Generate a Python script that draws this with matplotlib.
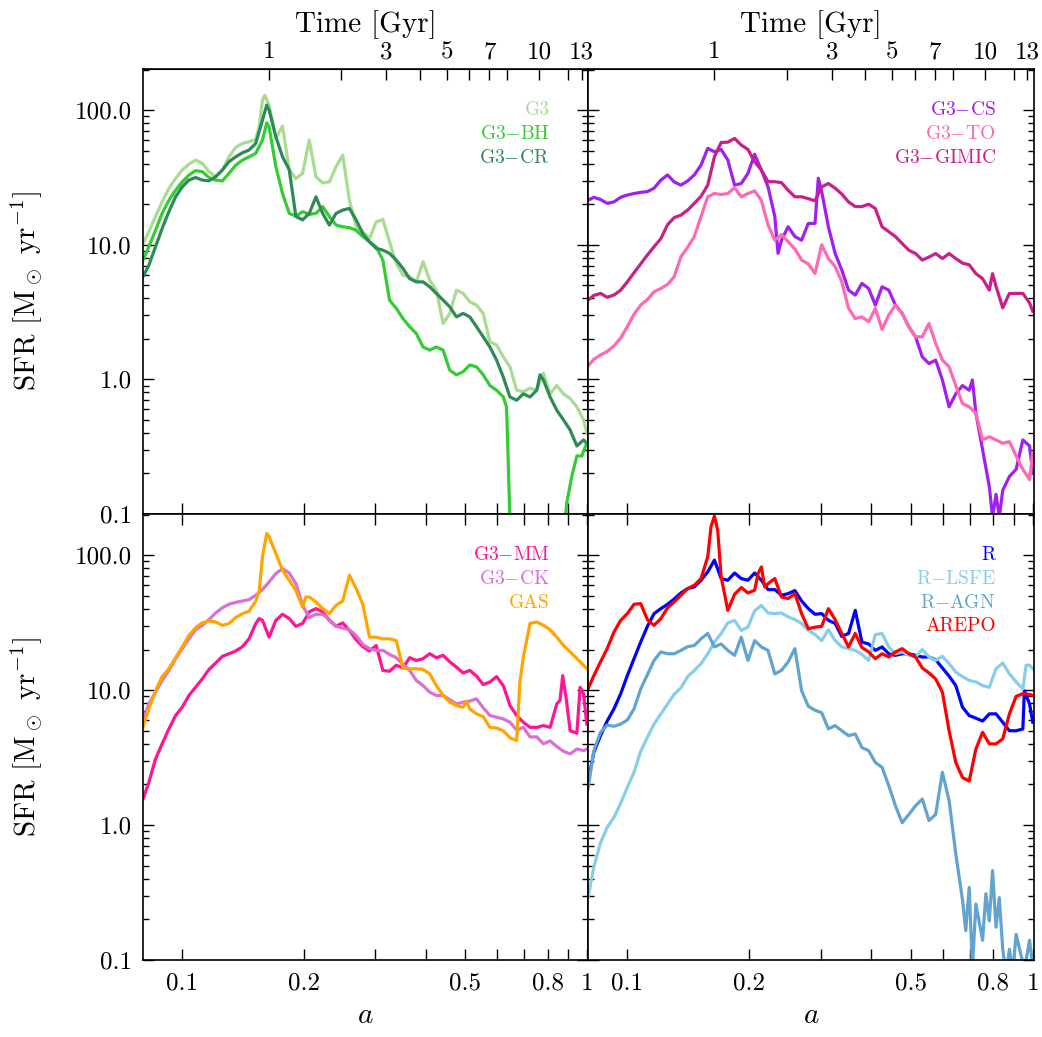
import numpy as np
import matplotlib
matplotlib.use("Agg")
import matplotlib.pyplot as plt
from matplotlib.ticker import FixedLocator, FuncFormatter, LogLocator, NullLocator

plt.rcParams['font.family'] = 'serif'
plt.rcParams['font.serif'] = ['cmr10']
plt.rcParams['mathtext.fontset'] = 'cm'
plt.rcParams['axes.unicode_minus'] = False
plt.rcParams['axes.formatter.use_mathtext'] = True

# --- data: (scale factor a, SFR [Msun/yr]) ---
g3 = [(0.0800, 10.2), (0.0827, 12.5), (0.0859, 16.2), (0.0892, 20.8), (0.0927, 26.2), (0.0963, 31.0),
      (0.1000, 35.9), (0.1039, 39.7), (0.1079, 42.5), (0.1121, 40.2), (0.1164, 34.9), (0.1210, 32.0),
      (0.1257, 35.9), (0.1305, 45.0), (0.1356, 52.8), (0.1409, 56.6), (0.1463, 58.2), (0.1520, 60.5),
      (0.1549, 75.2), (0.1579, 118.7), (0.1600, 129), (0.1640, 109), (0.1704, 61.6), (0.1770, 76.1),
      (0.1839, 35.9), (0.1910, 31.0), (0.1984, 33.9), (0.2061, 59.9), (0.2141, 32.0), (0.2224, 28.8),
      (0.2311, 29.3), (0.2400, 38.0), (0.2493, 46.3), (0.2590, 21.4), (0.2691, 13.6), (0.2795, 12.5),
      (0.2904, 11.1), (0.3016, 14.8), (0.3133, 15.4), (0.3255, 10.5), (0.3381, 7.26), (0.3513, 5.95),
      (0.3649, 5.78), (0.3790, 5.3), (0.3938, 7.47), (0.4090, 5.46), (0.4249, 4.6), (0.4414, 2.6),
      (0.4585, 3.09), (0.4763, 4.6), (0.4948, 4.35), (0.5140, 3.76), (0.5339, 3.56), (0.5547, 3.09),
      (0.5762, 1.9), (0.5985, 1.8), (0.6218, 1.47), (0.6459, 1.24), (0.6709, 0.83), (0.6970, 0.81),
      (0.7240, 0.86), (0.7521, 0.83), (0.7813, 1.11), (0.8117, 0.78), (0.8432, 0.90), (0.8759, 0.78),
      (0.9099, 0.72), (0.9452, 0.625), (0.9819, 0.50), (1.0000, 0.40)]

g3_bh = [(0.0800, 7.69), (0.0827, 9.66), (0.0859, 12.8), (0.0892, 17.1), (0.0927, 21.4), (0.0963, 25.4),
         (0.1000, 29.3), (0.1039, 32.9), (0.1079, 35.5), (0.1121, 34.9), (0.1164, 31.6), (0.1210, 30.2),
         (0.1257, 29.8), (0.1305, 33.9), (0.1356, 39.0), (0.1409, 42.5), (0.1463, 45.0), (0.1520, 47.7),
         (0.1579, 59.9), (0.1618, 80.5), (0.1640, 75.2), (0.1704, 38.0), (0.1770, 24.0), (0.1839, 17.1),
         (0.1910, 16.3), (0.1984, 17.6), (0.2061, 16.8), (0.2141, 17.1), (0.2224, 19.2), (0.2311, 16.2),
         (0.2400, 14.0), (0.2493, 13.6), (0.2590, 13.4), (0.2691, 12.8), (0.2795, 11.5), (0.2904, 10.5),
         (0.3016, 9.66), (0.3133, 7.69), (0.3255, 3.88), (0.3381, 3.37), (0.3513, 2.83), (0.3649, 2.46),
         (0.3790, 2.19), (0.3938, 1.74), (0.4090, 1.65), (0.4249, 1.74), (0.4414, 1.65), (0.4585, 1.17),
         (0.4763, 1.08), (0.4948, 1.14), (0.5140, 1.28), (0.5339, 1.24), (0.5547, 1.08), (0.5762, 0.90),
         (0.5985, 0.83), (0.6218, 0.74), (0.6334, 0.625), (0.6394, 0.25), (0.6493, 0.05), (0.7500, np.nan),
         (0.8703, 0.05), (0.8920, 0.12), (0.9180, 0.19), (0.9452, 0.27), (0.9719, 0.27), (1.0000, 0.335)]

g3_cr = [(0.0800, 5.78), (0.0827, 7.04), (0.0859, 9.66), (0.0892, 13.2), (0.0927, 17.6), (0.0963, 22.7),
         (0.1000, 26.9), (0.1039, 30.2), (0.1079, 31.6), (0.1121, 30.2), (0.1164, 29.8), (0.1210, 32.0),
         (0.1257, 35.9), (0.1305, 41.4), (0.1356, 45.0), (0.1409, 48.2), (0.1463, 50.5), (0.1520, 56.6),
         (0.1579, 84.3), (0.1618, 109), (0.1640, 100), (0.1704, 63.4), (0.1770, 45.0), (0.1839, 36.0),
         (0.1910, 16.2), (0.1984, 15.3), (0.2061, 17.1), (0.2141, 22.7), (0.2224, 17.1), (0.2311, 14.0),
         (0.2400, 17.1), (0.2493, 18.1), (0.2590, 18.6), (0.2691, 15.3), (0.2795, 12.1), (0.2904, 10.5),
         (0.3016, 9.4), (0.3133, 9.12), (0.3255, 8.62), (0.3381, 7.69), (0.3513, 6.67), (0.3649, 5.6),
         (0.3790, 5.3), (0.3938, 5.3), (0.4090, 4.87), (0.4249, 4.35), (0.4414, 3.88), (0.4585, 3.46),
         (0.4763, 2.91), (0.4948, 3.09), (0.5140, 2.91), (0.5339, 2.46), (0.5547, 2.07), (0.5762, 1.74),
         (0.5985, 1.39), (0.6218, 1.04), (0.6459, 0.74), (0.6709, 0.70), (0.6970, 0.78), (0.7240, 0.74),
         (0.7521, 0.83), (0.7663, 1.08), (0.7813, 0.99), (0.8117, 0.74), (0.8432, 0.59), (0.8759, 0.50),
         (0.9099, 0.42), (0.9452, 0.32), (0.9819, 0.355), (1.0000, 0.335)]

g3_cs = [(0.0800, 21.4), (0.0827, 22.5), (0.0859, 21.7), (0.0892, 20.3), (0.0927, 20.8), (0.0963, 22.5),
         (0.1000, 23.4), (0.1039, 24.0), (0.1079, 24.5), (0.1121, 24.8), (0.1164, 26.3), (0.1210, 30.2),
         (0.1257, 33.0), (0.1305, 29.3), (0.1356, 27.7), (0.1409, 29.8), (0.1463, 33.0), (0.1520, 39.0),
         (0.1579, 52.0), (0.1640, 49.0), (0.1704, 51.0), (0.1770, 42.5), (0.1839, 27.7), (0.1910, 28.5),
         (0.1984, 33.9), (0.2061, 47.0), (0.2141, 35.9), (0.2224, 26.9), (0.2311, 16.2), (0.2354, 8.62),
         (0.2400, 10.8), (0.2493, 13.6), (0.2590, 11.5), (0.2691, 10.8), (0.2795, 14.4), (0.2904, 14.4),
         (0.2959, 31.2), (0.3016, 24.8), (0.3133, 13.6), (0.3255, 8.62), (0.3381, 6.48), (0.3513, 4.60),
         (0.3649, 4.23), (0.3790, 5.16), (0.3938, 4.73), (0.4090, 3.56), (0.4249, 4.87), (0.4414, 4.60),
         (0.4585, 3.56), (0.4763, 3.09), (0.4948, 2.46), (0.5140, 2.07), (0.5339, 1.47), (0.5547, 1.31),
         (0.5762, 1.39), (0.5985, 0.99), (0.6218, 0.625), (0.6459, 0.78), (0.6709, 0.90), (0.6970, 0.83),
         (0.7098, 0.99), (0.7240, 0.56), (0.7521, 0.30), (0.7813, 0.16), (0.7958, 0.095), (0.8117, 0.14),
         (0.8269, 0.095), (0.8432, 0.15), (0.8759, 0.19), (0.9099, 0.215), (0.9452, 0.355), (0.9819, 0.32),
         (1.0000, 0.20)]

g3_to = [(0.0800, 1.26), (0.0827, 1.41), (0.0859, 1.52), (0.0892, 1.61), (0.0927, 1.77), (0.0963, 2.03),
         (0.1000, 2.46), (0.1039, 3.05), (0.1079, 3.56), (0.1121, 3.92), (0.1164, 4.47), (0.1210, 4.73),
         (0.1257, 5.07), (0.1305, 5.78), (0.1356, 8.14), (0.1409, 9.57), (0.1463, 11.5), (0.1520, 16.2),
         (0.1579, 22.7), (0.1640, 24.0), (0.1704, 23.6), (0.1770, 24.0), (0.1839, 26.6), (0.1910, 22.7),
         (0.1984, 24.0), (0.2061, 25.1), (0.2141, 21.4), (0.2224, 14.0), (0.2311, 10.8), (0.2400, 11.9),
         (0.2493, 10.5), (0.2590, 9.3), (0.2691, 7.69), (0.2795, 7.2), (0.2904, 6.12), (0.3016, 10.0),
         (0.3133, 7.9), (0.3255, 6.9), (0.3381, 5.3), (0.3513, 3.37), (0.3649, 2.83), (0.3790, 2.91),
         (0.3938, 2.68), (0.4090, 3.37), (0.4249, 2.35), (0.4414, 3.0), (0.4585, 3.56), (0.4763, 3.09),
         (0.4948, 2.46), (0.5140, 2.07), (0.5339, 2.07), (0.5547, 2.60), (0.5762, 1.85), (0.5985, 1.39),
         (0.6218, 1.24), (0.6459, 0.90), (0.6709, 0.66), (0.6970, 0.625), (0.7240, 0.56), (0.7521, 0.355),
         (0.7813, 0.375), (0.8117, 0.355), (0.8432, 0.335), (0.8759, 0.345), (0.9099, 0.27), (0.9452, 0.215),
         (0.9819, 0.18), (1.0000, 0.285)]

g3_gimic = [(0.0800, 3.88), (0.0827, 4.2), (0.0859, 4.35), (0.0892, 4.07), (0.0927, 4.23), (0.0963, 4.60),
            (0.1000, 5.3), (0.1039, 6.2), (0.1079, 7.2), (0.1121, 8.4), (0.1164, 9.66), (0.1210, 11.1),
            (0.1257, 14.1), (0.1305, 15.9), (0.1356, 16.6), (0.1409, 18.1), (0.1463, 20.3), (0.1520, 22.9),
            (0.1579, 27.7), (0.1640, 45.0), (0.1704, 57.5), (0.1770, 57.8), (0.1839, 61.6), (0.1910, 55.0),
            (0.1984, 51.0), (0.2061, 41.3), (0.2141, 35.9), (0.2224, 29.4), (0.2311, 29.4), (0.2400, 28.9),
            (0.2493, 25.4), (0.2590, 22.7), (0.2691, 22.7), (0.2795, 22.0), (0.2904, 21.2), (0.3016, 26.9),
            (0.3133, 28.5), (0.3255, 26.3), (0.3381, 23.8), (0.3513, 20.8), (0.3649, 19.2), (0.3790, 19.2),
            (0.3938, 20.0), (0.4090, 18.6), (0.4249, 13.6), (0.4414, 12.5), (0.4585, 11.5), (0.4763, 10.2),
            (0.4948, 9.1), (0.5140, 8.6), (0.5339, 7.7), (0.5547, 8.1), (0.5762, 8.6), (0.5985, 7.9),
            (0.6218, 8.6), (0.6459, 7.9), (0.6709, 7.3), (0.6970, 7.1), (0.7240, 6.1), (0.7521, 5.6),
            (0.7813, 4.6), (0.7958, 6.1), (0.8117, 4.9), (0.8432, 3.4), (0.8759, 4.35), (0.9099, 4.35),
            (0.9452, 4.35), (0.9819, 3.7), (1.0000, 3.2)]

g3_mm = [(0.0800, 1.56), (0.0827, 2.07), (0.0859, 3.09), (0.0892, 4.0), (0.0927, 5.16), (0.0963, 6.48),
         (0.1000, 7.47), (0.1039, 9.12), (0.1079, 10.5), (0.1121, 12.1), (0.1164, 14.2), (0.1210, 15.9),
         (0.1257, 17.8), (0.1305, 18.6), (0.1356, 19.5), (0.1409, 21.0), (0.1463, 24.0), (0.1520, 31.2),
         (0.1549, 33.9), (0.1579, 32.9), (0.1640, 24.7), (0.1704, 32.9), (0.1770, 36.5), (0.1839, 33.9),
         (0.1910, 29.7), (0.1984, 31.2), (0.2061, 38.0), (0.2141, 40.2), (0.2224, 38.0), (0.2311, 32.9),
         (0.2400, 29.7), (0.2493, 31.5), (0.2590, 27.7), (0.2691, 23.6), (0.2795, 21.0), (0.2904, 19.5),
         (0.3016, 21.4), (0.3133, 14.0), (0.3255, 13.8), (0.3381, 15.3), (0.3513, 14.6), (0.3649, 17.4),
         (0.3790, 16.6), (0.3938, 17.1), (0.4090, 18.6), (0.4249, 17.4), (0.4414, 18.1), (0.4585, 16.2),
         (0.4763, 14.8), (0.4948, 13.4), (0.5140, 14.0), (0.5339, 12.7), (0.5547, 11.0), (0.5762, 11.5),
         (0.5985, 12.6), (0.6218, 10.8), (0.6459, 7.7), (0.6709, 6.48), (0.6970, 5.78), (0.7240, 5.3),
         (0.7521, 5.3), (0.7813, 5.46), (0.8117, 5.3), (0.8432, 7.9), (0.8588, 8.4), (0.8719, 12.8),
         (0.8920, 8.14), (0.9099, 5.0), (0.9452, 4.8), (0.9627, 10.5), (0.9819, 9.4), (1.0000, 5.6)]

g3_ck = [(0.0800, 5.95), (0.0827, 7.9), (0.0859, 9.66), (0.0892, 11.8), (0.0927, 14.0), (0.0963, 17.1),
         (0.1000, 20.3), (0.1039, 24.0), (0.1079, 28.0), (0.1121, 30.2), (0.1164, 33.3), (0.1210, 37.3),
         (0.1257, 40.8), (0.1305, 43.3), (0.1356, 44.7), (0.1409, 45.8), (0.1463, 46.8), (0.1520, 50.5),
         (0.1579, 55.6), (0.1640, 63.4), (0.1704, 73.1), (0.1770, 79.6), (0.1839, 73.8), (0.1910, 61.6),
         (0.1984, 42.5), (0.2061, 34.5), (0.2141, 36.5), (0.2224, 36.5), (0.2311, 33.3), (0.2400, 29.7),
         (0.2493, 28.8), (0.2590, 28.0), (0.2691, 25.4), (0.2795, 21.8), (0.2904, 20.3), (0.3016, 19.7),
         (0.3133, 19.7), (0.3255, 18.4), (0.3381, 17.4), (0.3513, 15.5), (0.3649, 14.0), (0.3790, 11.8),
         (0.3938, 10.8), (0.4090, 9.66), (0.4249, 9.12), (0.4414, 9.12), (0.4585, 8.5), (0.4763, 7.9),
         (0.4948, 8.14), (0.5140, 8.3), (0.5339, 8.62), (0.5547, 7.4), (0.5762, 6.48), (0.5985, 6.3),
         (0.6218, 6.12), (0.6459, 5.78), (0.6709, 5.06), (0.6970, 5.3), (0.7240, 4.5), (0.7521, 4.5),
         (0.7813, 4.0), (0.8117, 4.2), (0.8432, 3.82), (0.8759, 3.52), (0.9099, 3.37), (0.9452, 3.66),
         (0.9819, 3.56), (1.0000, 3.66)]

gas = [(0.0800, 5.3), (0.0827, 7.26), (0.0859, 9.9), (0.0892, 12.6), (0.0927, 14.4), (0.0963, 17.4),
       (0.1000, 20.9), (0.1039, 25.4), (0.1079, 29.0), (0.1121, 31.5), (0.1164, 32.5), (0.1210, 32.0),
       (0.1257, 30.2), (0.1305, 31.2), (0.1356, 34.5), (0.1409, 36.9), (0.1463, 38.4), (0.1520, 45.8),
       (0.1549, 53.4), (0.1579, 97.2), (0.1618, 145), (0.1640, 137), (0.1704, 103), (0.1770, 77.4),
       (0.1839, 65.2), (0.1910, 54.7), (0.1984, 41.3), (0.2022, 49.0), (0.2061, 49.0), (0.2141, 45.0),
       (0.2224, 40.2), (0.2311, 36.9), (0.2400, 42.5), (0.2493, 45.8), (0.2590, 71.0), (0.2691, 56.6),
       (0.2795, 43.3), (0.2904, 24.7), (0.3016, 24.7), (0.3133, 24.0), (0.3255, 24.0), (0.3381, 23.3),
       (0.3513, 14.6), (0.3649, 14.4), (0.3790, 14.4), (0.3938, 14.2), (0.4090, 13.2), (0.4249, 10.8),
       (0.4414, 9.12), (0.4585, 8.14), (0.4763, 7.69), (0.4948, 7.47), (0.5041, 8.3), (0.5140, 7.26),
       (0.5339, 6.67), (0.5547, 6.36), (0.5762, 5.3), (0.5985, 5.24), (0.6218, 5.0), (0.6459, 4.43),
       (0.6709, 4.23), (0.6834, 11.5), (0.6970, 17.6), (0.7240, 31.2), (0.7521, 32.0), (0.7813, 30.2),
       (0.8117, 28.0), (0.8432, 24.7), (0.8759, 21.4), (0.9099, 19.2), (0.9452, 17.1), (0.9819, 15.3),
       (1.0000, 14.4)]

r_run = [(0.0800, 2.07), (0.0827, 3.46), (0.0859, 4.60), (0.0892, 5.9), (0.0927, 7.26), (0.0963, 9.4),
         (0.1000, 12.8), (0.1039, 17.1), (0.1079, 22.7), (0.1121, 29.7), (0.1164, 36.9), (0.1210, 40.2),
         (0.1257, 43.3), (0.1305, 47.3), (0.1356, 52.5), (0.1409, 56.6), (0.1463, 58.2), (0.1520, 65.2),
         (0.1579, 75.2), (0.1640, 92.0), (0.1704, 67.1), (0.1770, 65.2), (0.1839, 73.8), (0.1910, 67.1),
         (0.1984, 65.2), (0.2061, 73.8), (0.2141, 65.2), (0.2224, 55.6), (0.2311, 55.6), (0.2400, 50.5),
         (0.2493, 51.9), (0.2590, 54.7), (0.2691, 45.8), (0.2795, 40.2), (0.2904, 36.5), (0.3016, 36.9),
         (0.3133, 32.9), (0.3255, 31.2), (0.3381, 25.0), (0.3513, 26.3), (0.3649, 39.0), (0.3790, 22.7),
         (0.3938, 22.0), (0.4090, 19.7), (0.4249, 20.9), (0.4414, 18.6), (0.4585, 18.1), (0.4763, 18.6),
         (0.4948, 18.6), (0.5140, 18.1), (0.5339, 17.6), (0.5547, 17.6), (0.5762, 16.8), (0.5985, 14.6),
         (0.6218, 12.7), (0.6459, 10.8), (0.6709, 7.47), (0.6970, 6.48), (0.7240, 6.2), (0.7521, 5.9),
         (0.7813, 6.67), (0.8117, 6.67), (0.8432, 5.78), (0.8759, 5.0), (0.9099, 5.0), (0.9452, 5.16),
         (0.9535, 9.9), (0.9819, 7.9), (1.0000, 5.78)]

r_lsfe = [(0.0800, 0.29), (0.0827, 0.49), (0.0859, 0.74), (0.0892, 0.96), (0.0927, 1.14), (0.0963, 1.45),
          (0.1000, 1.90), (0.1039, 2.46), (0.1079, 3.52), (0.1121, 4.47), (0.1164, 5.6), (0.1210, 6.67),
          (0.1257, 7.9), (0.1305, 9.3), (0.1356, 10.4), (0.1409, 12.6), (0.1463, 14.0), (0.1520, 15.7),
          (0.1579, 18.6), (0.1640, 22.7), (0.1704, 26.3), (0.1770, 31.5), (0.1839, 32.9), (0.1910, 27.7),
          (0.1984, 29.3), (0.2061, 38.7), (0.2141, 42.5), (0.2224, 37.3), (0.2311, 36.9), (0.2400, 37.3),
          (0.2493, 34.9), (0.2590, 33.3), (0.2691, 31.2), (0.2795, 27.7), (0.2904, 25.8), (0.3016, 23.3),
          (0.3133, 28.0), (0.3255, 23.3), (0.3381, 20.9), (0.3513, 20.3), (0.3649, 19.7), (0.3790, 18.4),
          (0.3938, 16.6), (0.4090, 25.8), (0.4249, 26.3), (0.4414, 20.9), (0.4585, 18.6), (0.4763, 19.2),
          (0.4948, 18.1), (0.5140, 17.6), (0.5339, 20.0), (0.5547, 17.6), (0.5762, 16.6), (0.5985, 17.8),
          (0.6218, 15.7), (0.6459, 13.6), (0.6709, 12.6), (0.6970, 11.8), (0.7240, 11.5), (0.7521, 10.8),
          (0.7813, 10.5), (0.8117, 14.4), (0.8432, 15.9), (0.8759, 13.2), (0.9099, 11.5), (0.9452, 10.2),
          (0.9627, 15.3), (0.9819, 15.3), (1.0000, 14.4)]

r_agn = [(0.0800, 1.85), (0.0827, 3.56), (0.0859, 4.87), (0.0892, 5.5), (0.0927, 5.4), (0.0963, 5.6),
         (0.1000, 6.0), (0.1039, 7.26), (0.1079, 10.2), (0.1121, 13.0), (0.1164, 16.6), (0.1210, 19.2),
         (0.1257, 18.6), (0.1305, 18.6), (0.1356, 19.7), (0.1409, 21.0), (0.1463, 21.4), (0.1520, 24.0),
         (0.1579, 26.3), (0.1640, 20.9), (0.1704, 22.0), (0.1770, 19.7), (0.1839, 18.1), (0.1910, 24.7),
         (0.1984, 16.6), (0.2061, 23.3), (0.2141, 20.9), (0.2224, 19.7), (0.2311, 13.2), (0.2400, 14.0),
         (0.2493, 16.2), (0.2590, 20.3), (0.2691, 9.9), (0.2795, 7.6), (0.2904, 7.1), (0.3016, 6.8),
         (0.3133, 5.16), (0.3255, 5.46), (0.3381, 5.0), (0.3513, 4.6), (0.3649, 4.73), (0.3790, 3.75),
         (0.3938, 3.56), (0.4090, 2.91), (0.4249, 2.68), (0.4414, 1.96), (0.4585, 1.39), (0.4763, 1.04),
         (0.4948, 1.20), (0.5140, 1.39), (0.5339, 1.56), (0.5547, 1.08), (0.5762, 1.20), (0.5985, 2.46),
         (0.6218, 1.52), (0.6459, 0.61), (0.6709, 0.28), (0.6834, 0.165), (0.6970, 0.345), (0.7098, 0.088),
         (0.7240, 0.26), (0.7521, 0.14), (0.7663, 0.31), (0.7813, 0.195), (0.7958, 0.46), (0.8117, 0.175),
         (0.8269, 0.29), (0.8432, 0.12), (0.8588, 0.08), (0.8759, 0.12), (0.8920, 0.08), (0.9099, 0.155),
         (0.9452, 0.095), (0.9627, 0.10), (0.9819, 0.14), (1.0000, 0.088)]

arepo = [(0.0800, 10.2), (0.0827, 12.8), (0.0859, 16.2), (0.0892, 20.3), (0.0927, 26.9), (0.0963, 32.9),
         (0.1000, 36.9), (0.1039, 43.3), (0.1079, 43.8), (0.1121, 33.3), (0.1164, 30.2), (0.1210, 33.9),
         (0.1257, 40.8), (0.1305, 45.0), (0.1356, 50.5), (0.1409, 56.6), (0.1463, 59.9), (0.1520, 67.1),
         (0.1579, 97.2), (0.1609, 163), (0.1640, 195), (0.1671, 153), (0.1704, 69.0), (0.1770, 39.0),
         (0.1839, 51.3), (0.1910, 57.6), (0.1984, 52.5), (0.2061, 55.0), (0.2101, 73.0), (0.2141, 81.8),
         (0.2182, 58.2), (0.2224, 61.6), (0.2311, 67.1), (0.2400, 49.0), (0.2493, 47.7), (0.2590, 51.9),
         (0.2691, 36.9), (0.2795, 28.5), (0.2904, 29.3), (0.3016, 29.7), (0.3133, 40.2), (0.3255, 33.3),
         (0.3381, 26.3), (0.3513, 20.9), (0.3649, 26.3), (0.3790, 20.7), (0.3938, 19.2), (0.4090, 17.1),
         (0.4249, 18.6), (0.4414, 17.6), (0.4585, 19.2), (0.4763, 20.3), (0.4948, 18.6), (0.5140, 17.6),
         (0.5339, 14.6), (0.5547, 13.4), (0.5762, 12.1), (0.5985, 9.66), (0.6218, 5.0), (0.6459, 2.91),
         (0.6709, 2.25), (0.6970, 2.12), (0.7240, 3.66), (0.7521, 4.87), (0.7813, 4.0), (0.8117, 4.0),
         (0.8432, 4.35), (0.8759, 6.67), (0.9099, 9.0), (0.9452, 9.4), (0.9819, 9.3), (1.0000, 9.12)]

# panel contents: (data, label, colour)
panels = [
    [(g3, 'G3', '#a8dc90'), (g3_bh, 'G3$-$BH', '#33cc33'), (g3_cr, 'G3$-$CR', '#2e8b57')],
    [(g3_cs, 'G3$-$CS', '#a020f0'), (g3_to, 'G3$-$TO', '#ff69b4'), (g3_gimic, 'G3$-$GIMIC', '#c8208a')],
    [(g3_mm, 'G3$-$MM', '#ff1493'), (g3_ck, 'G3$-$CK', '#da70d6'), (gas, 'GAS', '#ffa500')],
    [(r_run, 'R', '#0000ff'), (r_lsfe, 'R$-$LSFE', '#87ceeb'), (r_agn, 'R$-$AGN', '#60a4cf'),
     (arepo, 'AREPO', '#ff0000')],
]

a_ticks = [0.1, 0.2, 0.3, 0.4, 0.5, 0.6, 0.7, 0.8, 0.9, 1.0]
a_labels = {0.1: '0.1', 0.2: '0.2', 0.5: '0.5', 0.8: '0.8', 1.0: '1'}
t_ticks = [1, 2, 3, 4, 5, 6, 7, 8, 10, 12, 13]
t_labels = [1, 3, 5, 7, 10, 13]

# flat LCDM (Om=0.25, OL=0.75, h=0.73) for the time axis
OM, OL, H = 0.25, 0.75, 0.73
T_H = 9.778 / H
P = 2.0 / (3.0 * np.sqrt(OL)) * T_H
K = np.sqrt(OL / OM)
T_OFF = 0.18


def a_to_t(a):
    a = np.clip(np.asarray(a, dtype=float), 1e-4, None)
    return np.clip(P * np.arcsinh(K * a ** 1.5) - T_OFF, 1e-3, None)


def t_to_a(t):
    t = np.clip(np.asarray(t, dtype=float), 1e-3, None)
    return (np.sinh((t + T_OFF) / P) / K) ** (2.0 / 3.0)


fs_tick = 18
fs_lab = 21
fs_leg = 14
L, M, R = 143 / 1042, 588 / 1042, 1034 / 1042
B, C, T = 1 - 960 / 1037, 1 - 514 / 1037, 1 - 69 / 1037
boxes = [[L, C, M - L, T - C], [M, C, R - M, T - C], [L, B, M - L, C - B], [M, B, R - M, C - B]]

fig = plt.figure(figsize=(10.42, 10.37), dpi=100)

for i, (box, curves) in enumerate(zip(boxes, panels)):
    ax = fig.add_axes(box)
    top_row = i < 2
    left_col = i % 2 == 0
    ax.set_xscale('log')
    ax.set_yscale('log')
    for data, label, col in curves:
        arr = np.array(data, dtype=float)
        ax.plot(arr[:, 0], arr[:, 1], color=col, lw=2.3)
    ax.set_xlim(0.08, 1.007)
    ax.set_ylim(0.1, 202)

    ax.xaxis.set_major_locator(FixedLocator(a_ticks))
    ax.xaxis.set_minor_locator(NullLocator())
    ax.xaxis.set_major_formatter(FuncFormatter(lambda v, p: a_labels.get(round(v, 2), '')))
    ax.yaxis.set_major_locator(FixedLocator([0.1, 1, 10, 100]))
    ax.yaxis.set_minor_locator(LogLocator(base=10, subs=np.arange(2, 10)))
    ax.yaxis.set_major_formatter(FuncFormatter(lambda v, p: '%.1f' % v))
    ax.tick_params(axis='both', which='both', direction='in', labelsize=fs_tick, width=1.0, colors='black')
    ax.tick_params(axis='x', which='major', length=8, pad=9, bottom=True, top=not top_row,
                   labelbottom=not top_row)
    ax.tick_params(axis='y', which='major', length=8, pad=8, left=True, right=True, labelleft=left_col)
    ax.tick_params(axis='y', which='minor', length=4.5, left=True, right=True)
    for sp in ax.spines.values():
        sp.set_linewidth(1.2)

    if left_col:
        ax.set_ylabel(r'SFR [M$_\odot$ yr$^{-1}$]', fontsize=fs_lab)
        ax.yaxis.set_label_coords(-0.222, 0.5)
    if not top_row:
        ax.set_xlabel(r'$a$', fontsize=fs_lab)
        ax.xaxis.set_label_coords(0.5, -0.095)
    else:
        sec = ax.secondary_xaxis('top', functions=(a_to_t, t_to_a))
        sec.xaxis.set_major_locator(FixedLocator(t_ticks))
        sec.xaxis.set_minor_locator(NullLocator())
        sec.xaxis.set_major_formatter(FuncFormatter(lambda v, p: str(int(round(v))) if int(round(v)) in t_labels else ''))
        sec.tick_params(axis='x', which='major', direction='in', length=8, width=1.0, pad=4, labelsize=fs_tick)
        sec.set_xlabel('Time [Gyr]', fontsize=fs_lab, labelpad=7)

    ys = [0.908, 0.855, 0.801, 0.748]
    for (data, label, col), yy in zip(curves, ys):
        ax.text(0.914, yy, label, color=col, fontsize=fs_leg, ha='right', va='center', transform=ax.transAxes)

fig.savefig('out.png', dpi=100)
